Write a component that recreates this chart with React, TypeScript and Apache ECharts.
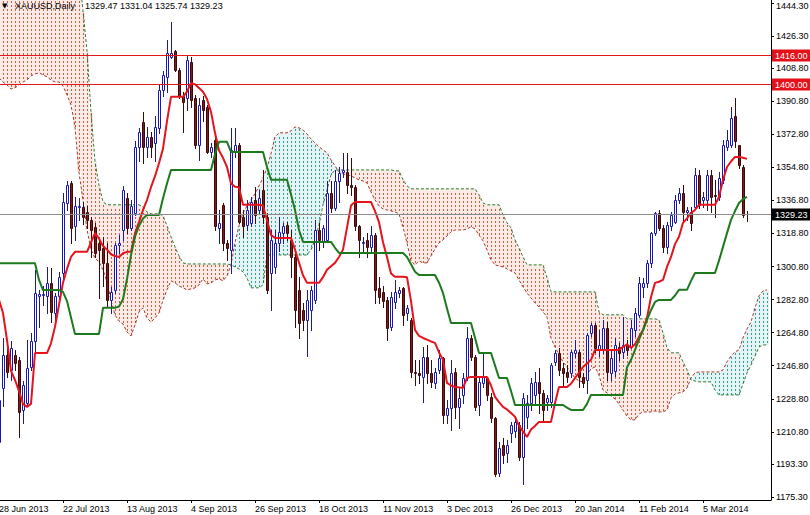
import React, { useEffect, useRef } from 'react';
import * as echarts from 'echarts';

const symbolName = 'XAUUSD,Daily';

const dateLabels = ['28 Jun 2013', '22 Jul 2013', '13 Aug 2013', '4 Sep 2013', '26 Sep 2013', '18 Oct 2013',
  '11 Nov 2013', '3 Dec 2013', '26 Dec 2013', '20 Jan 2014', '11 Feb 2014', '5 Mar 2014'];
const dateTickIndex = [0, 16, 32, 48, 64, 80, 96, 112, 128, 144, 160, 176];

const priceTicks = [1175.3, 1193.3, 1210.8, 1228.8, 1246.8, 1264.8, 1282.8, 1300.8, 1318.8, 1336.8,
  1354.8, 1372.8, 1390.8, 1408.8, 1426.3, 1444.3];

const levelLines = [1416.0, 1400.0];

// daily bars: [open, high, low, close]
const candles: number[][] = [
  [1205, 1235, 1198, 1228], [1234.5, 1261.8, 1224.6, 1252.7], [1252.7, 1260, 1240.9, 1243.6], [1244.5, 1260, 1239.1, 1256.3], [1252.7, 1255.4, 1244.5, 1248.5],
  [1250, 1251.8, 1208.2, 1221.8], [1222.7, 1238.2, 1215.5, 1236.4], [1226.4, 1260.8, 1224.6, 1245.4], [1246.3, 1264.5, 1244.5, 1260], [1260, 1299, 1253.6, 1286.3],
  [1285, 1288, 1268, 1285.9], [1285.5, 1290, 1280, 1285.8], [1284.5, 1300.8, 1275.4, 1291.7], [1291.7, 1299.9, 1270.8, 1276.3], [1275.4, 1286.3, 1270.8, 1284.5],
  [1284.5, 1298, 1282.6, 1295.3], [1297.2, 1340.7, 1293.5, 1336.2], [1335.3, 1347.1, 1331.6, 1345.2], [1346.2, 1347.1, 1313.5, 1321.7], [1322.6, 1338.9, 1315.3, 1333.5],
  [1333, 1338, 1326, 1333.8], [1333.3, 1336, 1324, 1327.8], [1330.5, 1333.5, 1322, 1326.2], [1326.2, 1328, 1306.2, 1320.7], [1322.4, 1324.4, 1306, 1308.2],
  [1313.7, 1315, 1283.5, 1309.9], [1311, 1316.9, 1290, 1302.8], [1302.8, 1313.7, 1279, 1282.6], [1282.6, 1289.9, 1275.4, 1287.2], [1288.1, 1313.5, 1286.3, 1312.6],
  [1312.6, 1318, 1308, 1313.5], [1320.7, 1344.4, 1315.3, 1342.5], [1338.2, 1340.7, 1319, 1321.8], [1321.8, 1337.1, 1320.7, 1334], [1330, 1369, 1329, 1366],
  [1366, 1376, 1358, 1374], [1379.6, 1385.2, 1357, 1366], [1366.1, 1377, 1360.7, 1371.6], [1371.6, 1374.3, 1360.7, 1366.1], [1368, 1382.5, 1358, 1377],
  [1376.3, 1399.7, 1373.4, 1397], [1397, 1407, 1393.4, 1405.2], [1404.2, 1424.2, 1396.1, 1417], [1415.1, 1434.2, 1414.2, 1417], [1417.9, 1418.8, 1407, 1407.9],
  [1407.9, 1408.8, 1392.4, 1393.4], [1393.4, 1396.1, 1374.3, 1390.6], [1392.4, 1416, 1386.1, 1413.3], [1412.4, 1415.1, 1387.9, 1391.5], [1392.4, 1394.3, 1365.2, 1367.1],
  [1367.1, 1392.4, 1358.9, 1388.8], [1391.5, 1393.4, 1380, 1386], [1387.9, 1388.8, 1362.5, 1363.4], [1363.4, 1368, 1360.7, 1366.1], [1369.8, 1371.6, 1320.7, 1322.6],
  [1321.7, 1331.6, 1313.5, 1324.4], [1334.4, 1335.3, 1309.9, 1313.5], [1313.5, 1315.3, 1304.4, 1310.8], [1309.9, 1376.1, 1297.1, 1364.3], [1363.4, 1376.1, 1360.7, 1367.1],
  [1367.1, 1368, 1324.4, 1325.3], [1328, 1331.6, 1317.1, 1322.6], [1323.5, 1337.1, 1320.7, 1331.6], [1324.4, 1338.9, 1322.6, 1336.2], [1337.1, 1344.3, 1324.4, 1328.9],
  [1331.6, 1342.5, 1330, 1338], [1342.5, 1353.4, 1324.4, 1328], [1328, 1329.8, 1286.3, 1288.1], [1297.1, 1320.7, 1277.1, 1315.3], [1300.8, 1320.7, 1297.1, 1313.5],
  [1313.5, 1328, 1309, 1319.8], [1318.9, 1324.4, 1313.5, 1322.6], [1323.5, 1325.3, 1315.3, 1318.9], [1315.3, 1320.7, 1295.3, 1306.2], [1306.2, 1309.9, 1268.1, 1277.1],
  [1288.1, 1295.3, 1261.7, 1270], [1277.1, 1280.8, 1266.3, 1271.7], [1271.7, 1288.1, 1252, 1282.6], [1277.1, 1290, 1266.3, 1288.1], [1282.6, 1326.2, 1280.8, 1320.7],
  [1320.7, 1324.4, 1309.9, 1315.3], [1314.4, 1323.5, 1311.7, 1321.7], [1315.3, 1347.1, 1314.4, 1340.7], [1340.7, 1347.1, 1330.7, 1332.5], [1332.5, 1353.4, 1331.6, 1347.1],
  [1347.1, 1355.2, 1336.2, 1351.6], [1352.4, 1362.5, 1349.8, 1353.4], [1352.5, 1362.5, 1340.7, 1345.2], [1345.2, 1359.8, 1339.8, 1344.3], [1344.3, 1345.2, 1320.7, 1322.6],
  [1322.6, 1323.5, 1306.2, 1315.3], [1313.5, 1317.1, 1308, 1314.4], [1315.3, 1318.9, 1306.2, 1311.7], [1311.7, 1322.6, 1309, 1318], [1318, 1318.9, 1280.8, 1288.1],
  [1289, 1295.3, 1280.8, 1284.4], [1287, 1290, 1279, 1282], [1282.6, 1284.4, 1260.8, 1267.2], [1268.1, 1287, 1266.3, 1284.4], [1281.7, 1293.5, 1278.1, 1287.1],
  [1286.2, 1289.9, 1284.4, 1288.1], [1289, 1289.9, 1269, 1274.4], [1275.4, 1279.9, 1271.7, 1278.1], [1271.7, 1272.6, 1240.9, 1243.6], [1243.6, 1249.9, 1236.3, 1242.7],
  [1242.7, 1249.9, 1237.2, 1241.8], [1240.9, 1257.2, 1227.3, 1251.8], [1251.8, 1258.1, 1237.2, 1242.7], [1242.7, 1249.9, 1235.4, 1238.1], [1237.2, 1245.4, 1234.5, 1243.6],
  [1244.5, 1255.4, 1242.7, 1250.9], [1250.9, 1251.8, 1215.5, 1220], [1220, 1228.2, 1215.5, 1223.6], [1223.6, 1249.9, 1211.8, 1242.7], [1243.6, 1245.4, 1218.2, 1224.5],
  [1224.5, 1235.4, 1212.7, 1229.1], [1230.9, 1242.7, 1226.4, 1239.9], [1240.9, 1268.1, 1239.1, 1261.7], [1261.7, 1263.6, 1249.9, 1251.8], [1251.8, 1252.7, 1222.7, 1224.5],
  [1225.4, 1239.9, 1220, 1238.1], [1237.2, 1253.6, 1235.4, 1240.9], [1239.9, 1240.9, 1228.2, 1230.9], [1230, 1231.8, 1216.4, 1218.2], [1218.2, 1219, 1187, 1188],
  [1188.5, 1205, 1187, 1202], [1203.7, 1207.3, 1193.7, 1198.2], [1199.1, 1206.4, 1194.6, 1203.7], [1210, 1216.4, 1205.5, 1214.5], [1211, 1219, 1208.2, 1216.4],
  [1214.5, 1216.4, 1195.5, 1197.3], [1197.3, 1231.8, 1182.4, 1229.1], [1219.1, 1230.9, 1212.7, 1226.4], [1226.4, 1240, 1222.7, 1237.2], [1231, 1243.6, 1226.4, 1238],
  [1238.1, 1245.4, 1220.9, 1231.8], [1231.8, 1233.6, 1217.3, 1222.7], [1227.3, 1230.9, 1222.7, 1229.1], [1227.3, 1248.1, 1224.5, 1247.2], [1249, 1255.4, 1247.2, 1253.6],
  [1253.6, 1256.3, 1241.8, 1244.5], [1245.4, 1248.1, 1236.3, 1242.7], [1243.6, 1247.2, 1238.1, 1240.9], [1242.7, 1255.4, 1240.9, 1254.5], [1253.6, 1260.8, 1251.8, 1255.4],
  [1254.5, 1255.4, 1235.4, 1240.9], [1240.9, 1242.7, 1235.4, 1237.2], [1239.1, 1264.5, 1231.8, 1263.6], [1264.5, 1269.9, 1262.7, 1269], [1269, 1269.9, 1254.5, 1256.3],
  [1255.4, 1266, 1252, 1258.1], [1255.4, 1271.7, 1253.6, 1267.2], [1267.2, 1270.8, 1239.1, 1243.6], [1243, 1256, 1239, 1251], [1244, 1262, 1241, 1258],
  [1257, 1259, 1250, 1253.6], [1254.5, 1273.5, 1251, 1258], [1258, 1261, 1252.7, 1255.4], [1257.2, 1271.7, 1256.3, 1267.2], [1266.3, 1278, 1263, 1275.4],
  [1274.4, 1295.3, 1273.5, 1291.7], [1289.9, 1294.4, 1284.4, 1291.7], [1291.7, 1304.4, 1289.9, 1302.6], [1302.6, 1319.8, 1300.8, 1318.9], [1318.9, 1330.7, 1318, 1329.8],
  [1329.8, 1331.6, 1320.7, 1321.7], [1321.7, 1323.5, 1308.9, 1311.7], [1311.7, 1325.3, 1308, 1323.5], [1322.6, 1330.7, 1320.7, 1328.9], [1325.3, 1339.8, 1324.4, 1337.1],
  [1337.1, 1343.4, 1335.3, 1340.7], [1340.7, 1345.2, 1325.3, 1330.7], [1330.7, 1333.4, 1326.2, 1331.8], [1330.7, 1333.4, 1320.7, 1324.4], [1333.4, 1354.3, 1332.5, 1350.7],
  [1350.7, 1353.4, 1332.5, 1334.4], [1337.1, 1341.6, 1333.4, 1338.9], [1337.1, 1353.4, 1331.6, 1350.7], [1350.7, 1353.4, 1330.7, 1338.9], [1339.8, 1348, 1328, 1339],
  [1338.9, 1352.5, 1337.1, 1348.9], [1348, 1369.8, 1346.2, 1367], [1366.1, 1375.2, 1364.3, 1369.8], [1367, 1387.9, 1366.1, 1381.6], [1383, 1392.4, 1366, 1369],
  [1367, 1367, 1354.3, 1356.1], [1355.2, 1356.1, 1328, 1328.9], [1329.47, 1331.04, 1325.74, 1329.23],
];

const tenkan = [
  1282.6, 1275.5, 1260.8, 1244, 1239, 1233, 1226, 1224.4, 1226, 1253.7,
  1253.7, 1253.7, 1253.7, 1259, 1268, 1280, 1292, 1299.5, 1306, 1308.8,
  1308.8, 1308.8, 1308.8, 1314, 1319, 1316, 1312, 1310, 1307.5, 1306.5,
  1306, 1308, 1308.8, 1308.8, 1319, 1325, 1331.6, 1337, 1344, 1350,
  1357, 1365, 1380, 1393.2, 1393.2, 1393.2, 1393.2, 1396, 1400.8, 1400,
  1398, 1396, 1392, 1385, 1373.6, 1364, 1360, 1355, 1346, 1344.2,
  1344, 1334.4, 1334.4, 1334.4, 1334.4, 1334.4, 1334, 1326, 1318, 1316.4,
  1316.4, 1316.4, 1316.4, 1316.4, 1310, 1303, 1296, 1291.9, 1291.9, 1291.9,
  1291.9, 1295, 1299, 1301, 1302.8, 1306, 1310, 1322, 1334, 1336,
  1336, 1336, 1336, 1336, 1331, 1325, 1314, 1306, 1297, 1295.2,
  1295.2, 1295.2, 1295, 1282, 1266.3, 1263, 1261.9, 1261, 1260, 1259.2,
  1254, 1250, 1237.4, 1236, 1235.2, 1235, 1234.7, 1240.1, 1240.7, 1240.7,
  1240.7, 1240.7, 1240.7, 1236, 1229.8, 1227, 1224.4, 1223, 1221, 1219,
  1214, 1211, 1208, 1212, 1214, 1216.2, 1216.2, 1216.2, 1216.2, 1226.5,
  1235.2, 1235.2, 1235.2, 1237, 1240.1, 1243, 1246.1, 1248, 1250, 1255.4,
  1255.4, 1255.4, 1255.4, 1255.4, 1255.4, 1255.4, 1257, 1258.5, 1256.5, 1258.5,
  1262.5, 1266.3, 1273, 1284.2, 1291.9, 1292.5, 1293.5, 1300.6, 1306, 1313,
  1317, 1324.6, 1327, 1330, 1331.6, 1334.4, 1334.4, 1334.4, 1334.4, 1334.4,
  1338.7, 1348, 1355, 1358, 1360.5, 1360.5, 1360, 1359.4,
];

const kijun = [
  1302.6, 1302.6, 1302.6, 1302.6, 1302.6, 1302.6, 1302.6, 1302.6, 1302.6, 1302.6,
  1293.5, 1288, 1288, 1288, 1288, 1288, 1287, 1282, 1273, 1264,
  1264, 1264, 1264, 1264, 1264, 1264, 1278.3, 1278.3, 1278.3, 1278.3,
  1279, 1283, 1294, 1307, 1317, 1323, 1327, 1328.9, 1328.9, 1328.9,
  1328.9, 1338, 1346, 1353.4, 1353.4, 1353.4, 1353.4, 1353.4, 1353.4, 1353.4,
  1353.4, 1353.4, 1353.4, 1353.4, 1362, 1368.7, 1368.7, 1368.7, 1363.2, 1363.2,
  1363.2, 1363.2, 1363.2, 1363.2, 1363.2, 1363.2, 1363.2, 1355, 1348, 1348,
  1348, 1348, 1348, 1340, 1331.6, 1320.7, 1314.2, 1314.2, 1314.2, 1314.2,
  1314.2, 1314.2, 1314.2, 1314.2, 1311, 1308.2, 1308.2, 1308.2, 1308.2, 1308.2,
  1308.2, 1308.2, 1308.2, 1308.2, 1308.2, 1308.2, 1308.2, 1308.2, 1308.2, 1308.2,
  1308.2, 1308.2, 1306, 1302, 1298, 1296.2, 1296.2, 1296.2, 1296.2, 1296.2,
  1292, 1286.4, 1278, 1270, 1270, 1270, 1270, 1270, 1270, 1262,
  1253.7, 1253.7, 1253.7, 1253.7, 1247, 1240.1, 1240.1, 1240.1, 1233, 1225.4,
  1225.4, 1225.4, 1225.4, 1225.4, 1225.4, 1225.4, 1225.4, 1225.4, 1225.4, 1225.4,
  1225.4, 1225.4, 1224, 1222.7, 1222.7, 1222.7, 1222.7, 1226, 1230.9, 1230.9,
  1230.9, 1230.9, 1230.9, 1230.9, 1230.9, 1230.9, 1230.9, 1246, 1250, 1255.4,
  1261, 1266, 1271.7, 1277, 1281.5, 1282.6, 1282.6, 1282.6, 1282.6, 1285,
  1288.1, 1288.1, 1288.1, 1293, 1297.3, 1297.3, 1297.3, 1297.3, 1297.3, 1297.3,
  1304, 1311.5, 1319, 1326.2, 1331, 1335.4, 1337.5, 1338.7,
];

const spanA = [
  1403.5, 1401.3, 1399.7, 1397.5, 1398.1, 1399.7, 1401.3, 1402.4, 1404.6, 1405.7,
  1406.2, 1405.2, 1404.1, 1402.4, 1401.3, 1401.3, 1399.2, 1394.3, 1388.8, 1377,
  1352, 1337, 1321, 1310, 1305.5, 1303.3, 1299, 1292.4, 1282.6, 1274.4,
  1271.2, 1269.5, 1265.2, 1263, 1269, 1276.1, 1278.3, 1272.8, 1270.6, 1272.8,
  1275.5, 1282.6, 1288.1, 1293, 1291.9, 1290.2, 1289.2, 1288.1, 1288.6, 1289.2,
  1290.8, 1294.1, 1291.3, 1291.9, 1293.5, 1294.1, 1293, 1295.7, 1301.7, 1313.7,
  1323, 1330, 1333.8, 1337.1, 1340.3, 1344.7, 1349.1, 1354.5, 1362.1, 1371.4,
  1373.6, 1373.6, 1373.6, 1374.7, 1376.8, 1376.3, 1375.2, 1373, 1370.3, 1368.1,
  1366, 1364.3, 1362.7, 1358.9, 1355.6, 1352.3, 1351.2, 1350.7, 1350.1, 1349.1,
  1348, 1347.4, 1346.3, 1341.4, 1337.1, 1333.8, 1332.2, 1331.6, 1331.1, 1330.5,
  1329.5, 1322.4, 1313.7, 1303.9, 1301.7, 1303.9, 1302.8, 1302.8, 1306.6, 1310.4,
  1313.7, 1315.3, 1317.5, 1319.7, 1320.7, 1320.7, 1320.7, 1321.3, 1322.4, 1321.3,
  1318, 1314.8, 1309.9, 1304.4, 1301.7, 1301.1, 1300.6, 1299.5, 1298.4, 1297.3,
  1293.5, 1289.7, 1286.4, 1283.7, 1281, 1278.8, 1276.1, 1273.4, 1261.9, 1257,
  1252.7, 1248.9, 1246.1, 1242.9, 1240.1, 1238.5, 1238, 1241.8, 1245.1, 1246.1,
  1241.8, 1233.6, 1232, 1230.3, 1228.7, 1226, 1222.7, 1219.4, 1217.3, 1217.3,
  1220.5, 1221.6, 1221.6, 1221.6, 1222.2, 1221.6, 1221.6, 1222.7, 1229.3, 1231.4,
  1232, 1232.5, 1234.7, 1240.1, 1242.9, 1243.4, 1243.4, 1243.4, 1243.4, 1243.4,
  1243.4, 1244.5, 1248.9, 1252.1, 1254.3, 1255.4, 1261.9, 1266.8, 1270.6, 1278.3,
  1284.8, 1287.5, 1288.1,
];

const spanB = [
  1470, 1470, 1470, 1470, 1470, 1470, 1470, 1470, 1470, 1470,
  1470, 1470, 1470, 1470, 1470, 1470, 1470, 1470, 1470, 1470,
  1460, 1440, 1418, 1385, 1358, 1345, 1336, 1334.4, 1334.4, 1334.4,
  1334.4, 1334.4, 1334.4, 1334.4, 1334.4, 1334.4, 1333.3, 1330.5, 1329.5, 1329.5,
  1329.5, 1328.4, 1322.9, 1316.9, 1311.5, 1306.6, 1302.8, 1302.2, 1302.2, 1302.2,
  1302.2, 1302.2, 1302.2, 1302.2, 1302.2, 1302.2, 1302.2, 1302.2, 1301.7, 1300.6,
  1299.5, 1297.9, 1294.6, 1289.2, 1289.2, 1289.2, 1290.8, 1307.1, 1307.1, 1307.1,
  1307.1, 1307.1, 1307.1, 1307.1, 1307.1, 1307.1, 1307.1, 1307.1, 1309.9, 1315.3,
  1323.5, 1334.4, 1342.5, 1350.7, 1353.4, 1353.4, 1353.4, 1353.4, 1353.4, 1353.4,
  1353.4, 1353.4, 1353.4, 1353.4, 1353.4, 1353.4, 1353.4, 1353.4, 1353.4, 1352.9,
  1352.9, 1348, 1344.7, 1343.1, 1343.1, 1343.1, 1343.1, 1343.1, 1343.1, 1343.1,
  1343.1, 1343.1, 1343.1, 1343.1, 1343.1, 1343.1, 1343.1, 1343.1, 1343.1, 1343.1,
  1339.8, 1335.4, 1334.4, 1334.4, 1334.4, 1334.4, 1328.9, 1324.6, 1321.8, 1315.3,
  1311, 1306, 1301.7, 1301.7, 1301.7, 1301.7, 1301.7, 1294.6, 1287, 1287,
  1287, 1287, 1287, 1287, 1287, 1287, 1287, 1287, 1287, 1287,
  1276.1, 1274.5, 1274.5, 1274.5, 1274.5, 1274.5, 1274.5, 1272.3, 1272.3, 1272.3,
  1272.3, 1272.3, 1272.3, 1272.3, 1272.3, 1271.7, 1264.6, 1256.5, 1253.8, 1253.8,
  1253.8, 1248.9, 1244.5, 1239.1, 1238.5, 1238, 1238, 1238, 1238, 1233.6,
  1230.9, 1230.9, 1230.9, 1230.9, 1230.9, 1230.9, 1236.9, 1242.9, 1247.2, 1252.1,
  1257, 1258.1, 1258.1,
];

const FONT = '"Liberation Sans", Arial, sans-serif';
const BEAR_CLOUD = '#e2553a';
const BULL_CLOUD = '#2aa0a0';
const BEAR_TINT = '#fbebe6';
const BULL_TINT = '#e6f3f3';

export default function App() {
  const ref = useRef<HTMLDivElement>(null);

  useEffect(() => {
    if (!ref.current) return;
    const chart = echarts.init(ref.current, null, { renderer: 'svg' });
    const last = candles[candles.length - 1];
    const candleData = candles.map((c, i) => [i, c[0], c[3], c[2], c[1]]);
    const cloudData = spanA.map((a, i) => [i, a, spanB[i]]);
    const topTick = priceTicks[priceTicks.length - 1];
    // [price, kind] kind 0 = level line (red tag), 1 = last price (black tag)
    const levelData = [...levelLines.map((v) => [v, 0]), [last[3], 1]];

    const option: any = {
      animation: false,
      backgroundColor: '#ffffff',
      grid: { left: -1, right: 39, top: 0, bottom: 15, containLabel: false, outerBoundsMode: 'none' },
      xAxis: {
        type: 'value', min: 0, max: 193,
        axisLine: { show: true, onZero: false, lineStyle: { color: '#000', width: 1 } },
        axisTick: { show: true, customValues: dateTickIndex, length: 3, inside: false, lineStyle: { color: '#000' } },
        axisLabel: {
          show: true, customValues: dateTickIndex, align: 'left', margin: 4, fontSize: 9,
          fontFamily: FONT, color: '#000', hideOverlap: false,
          formatter: (v: number) => { const k = dateTickIndex.indexOf(Math.round(v)); return k >= 0 ? dateLabels[k] : ''; },
        },
        splitLine: { show: false },
      },
      yAxis: {
        type: 'value', position: 'right', min: 1173.67, max: 1445.93,
        axisLine: { show: true, onZero: false, lineStyle: { color: '#000', width: 1 } },
        axisTick: { show: true, customValues: priceTicks, length: 3, inside: false, lineStyle: { color: '#000' } },
        axisLabel: {
          show: true, customValues: priceTicks, margin: 5, fontSize: 9, fontFamily: FONT, color: '#000',
          hideOverlap: false,
          formatter: (v: number) => (Math.abs(v - topTick) < 0.01 ? '{top|' + v.toFixed(2) + '}' : v.toFixed(2)),
          rich: { top: { fontSize: 9, fontFamily: FONT, color: '#000', padding: [6, 0, 0, 0] } },
        },
        splitLine: { show: false },
      },
      series: [
        {
          type: 'custom', name: 'cloud', z: 1, clip: true,
          data: cloudData, encode: { x: 0, y: [1, 2] },
          renderItem: (params: any, api: any) => {
            const i = api.value(0), a = api.value(1), b = api.value(2);
            const pA = api.coord([i, a]);
            const pB = api.coord([i, b]);
            const cs = params.coordSys;
            const y1 = Math.max(Math.min(pA[1], pB[1]), cs.y);
            const y2 = Math.min(Math.max(pA[1], pB[1]), cs.y + cs.height);
            const x = Math.round(pA[0]);
            const bullish = a >= b;
            const color = bullish ? BULL_CLOUD : BEAR_CLOUD;
            const children: any[] = [];
            if (y2 > y1) {
              children.push({
                type: 'rect', shape: { x: x - 2, y: y1, width: 4, height: y2 - y1 },
                style: { fill: bullish ? BULL_TINT : BEAR_TINT, stroke: null },
              });
            }
            for (let yy = Math.ceil(y1 / 4) * 4 + 1; yy + 1 <= y2; yy += 4) {
              children.push({ type: 'rect', shape: { x: x, y: yy, width: 1, height: 2 }, style: { fill: color, stroke: null } });
            }
            return { type: 'group', children };
          },
        },
        {
          type: 'line', name: 'Senkou A', z: 2, data: spanA.map((v, i) => [i, v]),
          symbol: 'none', showSymbol: false, clip: true,
          lineStyle: { color: '#a8362a', width: 1, type: [3, 2] },
        },
        {
          type: 'line', name: 'Senkou B', z: 2, data: spanB.map((v, i) => [i, v]),
          symbol: 'none', showSymbol: false, clip: true,
          lineStyle: { color: '#2c7a2c', width: 1, type: [3, 2] },
        },
        {
          type: 'custom', name: 'XAUUSD', z: 3, clip: true,
          data: candleData, encode: { x: 0, y: [1, 2, 3, 4] },
          renderItem: (params: any, api: any) => {
            const i = api.value(0), o = api.value(1), c = api.value(2), l = api.value(3), h = api.value(4);
            const pO = api.coord([i, o]);
            const pC = api.coord([i, c]);
            const pL = api.coord([i, l]);
            const pH = api.coord([i, h]);
            const x = Math.round(pO[0]);
            const bull = c > o;
            const edge = bull ? '#1818aa' : '#3a0a0a';
            const top = Math.round(Math.min(pO[1], pC[1]));
            const bot = Math.round(Math.max(pO[1], pC[1]));
            const children: any[] = [
              { type: 'line', shape: { x1: x + 0.5, y1: Math.round(pH[1]), x2: x + 0.5, y2: Math.round(pL[1]) + 1 }, style: { stroke: edge, lineWidth: 1 } },
            ];
            if (bot - top < 1) {
              children.push({ type: 'line', shape: { x1: x - 1, y1: top + 0.5, x2: x + 2, y2: top + 0.5 }, style: { stroke: edge, lineWidth: 1 } });
            } else {
              children.push({
                type: 'rect', shape: { x: x - 0.5, y: top + 0.5, width: 2, height: bot - top },
                style: { fill: bull ? '#ffffff' : '#7f1b1b', stroke: edge, lineWidth: 1 },
              });
            }
            return { type: 'group', children };
          },
        },
        {
          type: 'line', name: 'Tenkan-sen', z: 5, data: tenkan.map((v, i) => [i, v]),
          symbol: 'none', showSymbol: false, clip: true,
          lineStyle: { color: '#e5141c', width: 2 },
        },
        {
          type: 'line', name: 'Kijun-sen', z: 5, data: kijun.map((v, i) => [i, v]),
          symbol: 'none', showSymbol: false, clip: true,
          lineStyle: { color: '#1c7a1c', width: 2 },
        },
        {
          type: 'custom', name: 'levels', z: 6, clip: false,
          data: levelData, encode: { y: 0 },
          renderItem: (params: any, api: any) => {
            const v = api.value(0), kind = api.value(1);
            const cs = params.coordSys;
            const p = api.coord([0, v]);
            const y = Math.round(p[1]) + 0.5;
            const lineColor = kind === 1 ? '#8c8c8c' : '#e01818';
            return {
              type: 'group',
              children: [
                { type: 'line', shape: { x1: cs.x + 1, y1: y, x2: cs.x + cs.width, y2: y }, style: { stroke: lineColor, lineWidth: 1 } },
                {
                  type: 'text', x: cs.x + cs.width + 1, y: y,
                  style: {
                    text: v.toFixed(2), fill: '#ffffff', fontSize: 9, fontFamily: FONT,
                    align: 'left', verticalAlign: 'middle',
                    backgroundColor: kind === 1 ? '#000000' : '#e3121a', padding: [2, 3, 1, 3],
                  },
                },
              ],
            };
          },
        },
      ],
      graphic: [
        { type: 'text', left: 2, top: 2, z: 10, style: { text: '\u25BC', fontSize: 7, fontFamily: '"DejaVu Sans"', fill: '#000' } },
        { type: 'text', left: 15, top: 1, z: 10, style: { text: symbolName, fontSize: 9, fontFamily: FONT, fill: '#000' } },
        { type: 'text', left: 85, top: 1, z: 10, style: { text: last.map((v) => v.toFixed(2)).join(' '), fontSize: 9, fontFamily: FONT, fill: '#000' } },
      ],
    };

    chart.setOption(option);
    return () => chart.dispose();
  }, []);

  return (
    <div
      ref={ref}
      style={{ position: 'absolute', left: 0, top: 0, width: 810, height: 515, background: '#ffffff' }}
    />
  );
}
